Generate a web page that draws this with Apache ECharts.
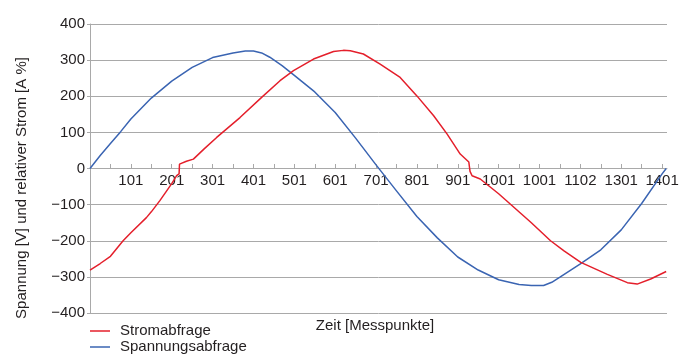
<!DOCTYPE html>
<html>
<head>
<meta charset="utf-8">
<script src="https://cdn.jsdelivr.net/npm/echarts@6/dist/echarts.min.js"></script>
<style>
  html, body { margin: 0; padding: 0; background: #fff; }
  #chart { width: 691px; height: 359px; }
</style>
</head>
<body>
<div id="chart"></div>
<script>
// x axis tick labels as printed in the original (every 100 Messpunkte)
const xTickLabels = ['101', '201', '301', '401', '501', '601', '701', '801', '901', '1001', '1001', '1102', '1301', '1401']
const yTickLabels = ['\u2212400', '\u2212300', '\u2212200', '\u2212100', '0', '100', '200', '300', '400']

// Stromabfrage (red)
const stromX = [0, 25, 50, 81, 100, 138, 150, 171, 200, 212, 218, 219, 236, 253, 280, 310, 367, 420, 465, 498, 547, 596, 620, 637, 669, 710, 759, 800, 841, 874, 906, 927, 930, 935, 955, 1000, 1029, 1080, 1127, 1160, 1201, 1266, 1315, 1339, 1372, 1410]
const stromY = [-281, -263, -243, -200, -178, -136, -120, -89, -42, -20, -15, 12, 20, 26, 55, 86, 141, 197, 243, 271, 303, 324, 327, 326, 317, 289, 252, 201, 146, 95, 40, 18, -8, -20, -29, -70, -99, -150, -200, -228, -260, -293, -316, -320, -306, -285]

// Spannungsabfrage (blue)
const spannX = [0, 25, 50, 75, 100, 150, 200, 250, 300, 350, 380, 400, 420, 440, 470, 500, 550, 600, 650, 700, 750, 800, 850, 900, 950, 1000, 1050, 1080, 1110, 1130, 1150, 1200, 1250, 1300, 1350, 1400, 1410]
const spannY = [0, 36, 69, 102, 137, 195, 242, 280, 307, 320, 325, 325, 320, 308, 285, 258, 212, 155, 84, 10, -62, -133, -192, -245, -281, -308, -321, -324, -324, -315, -301, -264, -225, -170, -97, -15, 0]

const FONT = 'Liberation Sans'
const TEXT = '#231f20'
const GRIDC = '#a9a9a9'

let myChart = echarts.init(document.getElementById('chart'))
let options = {
  animation: false,
  textStyle: { fontFamily: FONT },
  grid: {
    left: 90,
    right: 24,
    top: 24,
    bottom: 46
  },
  legend: {
    orient: 'vertical',
    left: 90,
    top: 323,
    padding: 0,
    itemGap: 0,
    itemWidth: 20,
    itemHeight: 1.5,
    icon: 'rect',
    data: ['Stromabfrage', 'Spannungsabfrage'],
    textStyle: {
      fontFamily: FONT,
      fontSize: 15,
      color: TEXT,
      lineHeight: 16,
      padding: [0, 0, 0, 5]
    }
  },
  graphic: [
    {
      type: 'text',
      x: 22,
      y: 188,
      rotation: Math.PI / 2,
      style: {
        text: 'Spannung [V] und relativer Strom [A %]',
        font: '15px "Liberation Sans"',
        fill: TEXT,
        align: 'center',
        verticalAlign: 'middle'
      }
    },
    {
      type: 'text',
      x: 375,
      y: 326,
      style: {
        text: 'Zeit [Messpunkte]',
        font: '15px "Liberation Sans"',
        fill: TEXT,
        align: 'center',
        verticalAlign: 'middle'
      }
    }
  ],
  xAxis: {
    type: 'value',
    position: 'bottom',
    offset: -145,
    min: 0,
    max: 1412,
    interval: 50,
    splitLine: { show: false },
    axisLine: { onZero: false, lineStyle: { color: GRIDC, width: 1 } },
    axisTick: { inside: true, length: 4, lineStyle: { color: GRIDC } },
    axisLabel: {
      margin: 5,
      fontSize: 15,
      color: TEXT,
      fontFamily: FONT,
      showMinLabel: false,
      showMaxLabel: false,
      formatter: function (v) {
        if (v > 0 && v % 100 === 0 && v / 100 <= xTickLabels.length) {
          return xTickLabels[v / 100 - 1]
        }
        return ''
      }
    }
  },
  yAxis: {
    type: 'value',
    min: -400,
    max: 400,
    interval: 100,
    axisLine: { show: true, onZero: false, lineStyle: { color: GRIDC, width: 1 } },
    axisTick: { show: true, length: 3, lineStyle: { color: GRIDC } },
    splitLine: { lineStyle: { color: GRIDC, width: 1 } },
    axisLabel: {
      margin: 5,
      fontSize: 15,
      color: TEXT,
      fontFamily: FONT,
      formatter: function (v) {
        return yTickLabels[Math.round((v + 400) / 100)]
      }
    }
  },
  series: [
    {
      name: 'Spannungsabfrage',
      type: 'line',
      showSymbol: false,
      smooth: false,
      color: '#3a64b2',
      lineStyle: { color: '#3a64b2', width: 1.5 },
      data: spannX.map((x, i) => [x, spannY[i]])
    },
    {
      name: 'Stromabfrage',
      type: 'line',
      showSymbol: false,
      smooth: false,
      color: '#e41f2b',
      lineStyle: { color: '#e41f2b', width: 1.5 },
      data: stromX.map((x, i) => [x, stromY[i]])
    }
  ]
}
myChart.setOption(options)
</script>
</body>
</html>
